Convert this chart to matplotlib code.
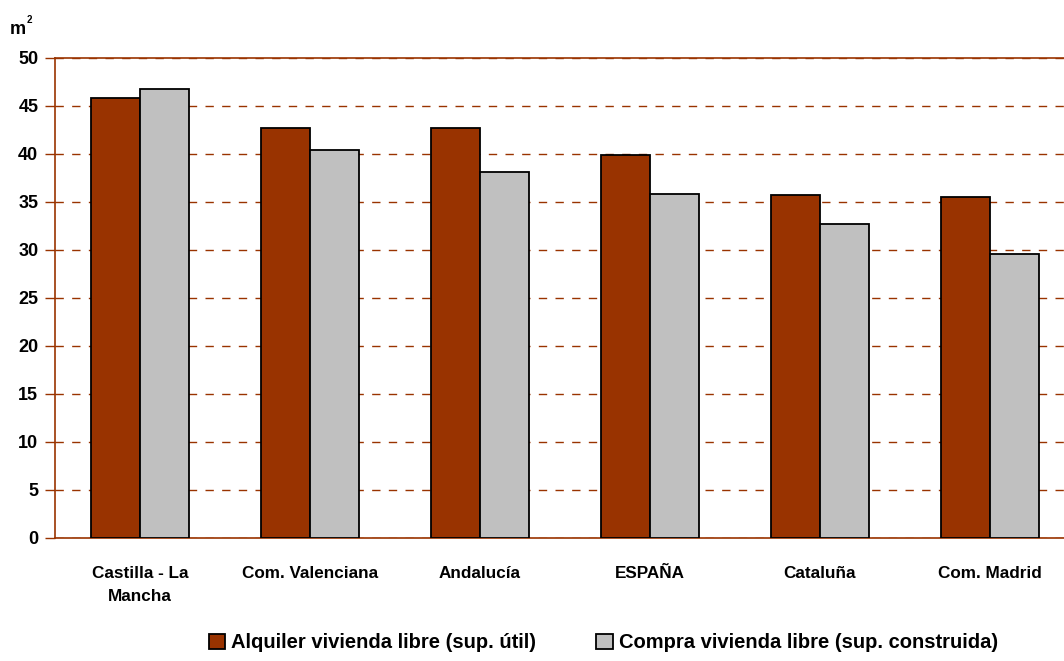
import numpy as np
import matplotlib.pyplot as plt

# Data
categories = ['Castilla - La\nMancha', 'Com. Valenciana', 'Andalucía', 'ESPAÑA', 'Cataluña', 'Com. Madrid']
alquiler = [45.8, 42.7, 42.7, 39.9, 35.7, 35.5]
compra = [46.8, 40.4, 38.1, 35.8, 32.7, 29.6]
series_names = ['Alquiler vivienda libre (sup. útil)', 'Compra vivienda libre (sup. construida)']
yticks = [0, 5, 10, 15, 20, 25, 30, 35, 40, 45, 50]

plt.rcParams['font.family'] = ['Liberation Sans', 'DejaVu Sans']
plt.rcParams['font.weight'] = 'bold'

red = '#993300'
grey = '#C0C0C0'

fig = plt.figure(figsize=(10.64, 6.61), dpi=100)
ax = fig.add_axes([55 / 1064, 123 / 661, 1020 / 1064, 480 / 661])

x = np.arange(len(categories))
w = 0.288
ax.bar(x - w / 2, alquiler, w, color=red, edgecolor='black', linewidth=1.3,
       label=series_names[0], zorder=3)
ax.bar(x + w / 2, compra, w, color=grey, edgecolor='black', linewidth=1.3,
       label=series_names[1], zorder=3)

ax.set_xlim(-0.5, len(categories) - 0.5)
ax.set_ylim(0, 50)
ax.set_yticks(yticks)
ax.set_yticklabels([str(t) for t in yticks], fontsize=13, fontweight='bold')
ax.set_xticks(x)
ax.set_xticklabels(categories, fontsize=12.3, fontweight='bold', linespacing=1.7)
ax.tick_params(axis='x', length=0, pad=20)
ax.tick_params(axis='y', length=7, width=1, color=red, pad=5)

ax.yaxis.grid(True, color=red, linestyle=(0, (6, 6)), linewidth=1)
ax.set_axisbelow(True)
for side in ['left', 'bottom', 'top']:
    ax.spines[side].set_color(red)
    ax.spines[side].set_linewidth(1.2)
ax.spines['right'].set_visible(False)

# unit label: m with a small superscript 2
fig.text(10 / 1064, 1 - 34 / 661, 'm', fontsize=13, fontweight='bold', va='baseline')
fig.text(26.5 / 1064, 1 - 23 / 661, '2', fontsize=7, fontweight='bold', va='baseline')

fig.legend(loc='center', bbox_to_anchor=(0.567, 1 - 643 / 661), ncol=2, frameon=False,
           handlelength=0.8, handleheight=0.8, handletextpad=0.3,
           columnspacing=3.0, prop={'weight': 'bold', 'size': 14.5})

fig.savefig('out.png', dpi=100)
